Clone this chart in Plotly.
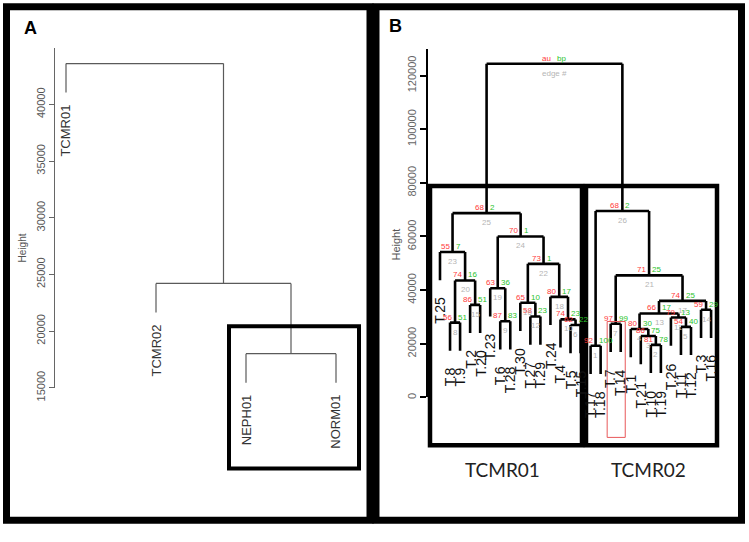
import plotly.graph_objects as go

W, H = 749, 542

# ---------------- Panel A data ----------------
a_labels = ["TCMR01", "TCMR02", "NEPH01", "NORM01"]          # leaf order
a_left = ["NEPH01", "TCMR02", "TCMR01"]
a_right = ["NORM01", 1, 2]
a_height = [18000, 24200, 43600]
a_ticks = [15000, 20000, 25000, 30000, 35000, 40000]

# ---------------- Panel B data ----------------
b_labels = ["T.25", "T.8", "T.9", "T.2", "T.20", "T.23", "T.6", "T.28", "T.30",
            "T.27", "T.29", "T.24", "T.4", "T.5", "T.15", "T.17", "T.18", "T.7",
            "T.14", "T.1", "T.21", "T.10", "T.19", "T.26", "T.11", "T.12", "T.3", "T.16"]
b_left = ["T.17", "T.10", "T.21", "T.1", "T.11", "T.5", "T.7", "T.8", "T.6", "T.4",
          "T.26", "T.27", 4, "T.3", "T.2", "T.30", 13, "T.24", "T.23", 8, 7, 16,
          "T.25", 19, 23, 1, 25]
b_right = ["T.18", "T.19", 2, 3, "T.12", "T.15", "T.14", "T.9", "T.28", 6,
           5, "T.29", 11, "T.16", "T.20", 12, 14, 10, 9, 15, 17, 18,
           20, 22, 24, 21, 26]
b_height = [19300, 19600, 22900, 25500, 26300, 27000, 27500, 27900, 28400, 29100,
            29800, 30200, 31300, 32700, 34500, 35300, 36000, 37500, 40700, 43600,
            45500, 49800, 54200, 60000, 68700, 69500, 124400]
b_au = [92, 81, 86, 80, 54, 62, 97, 56, 87, 74, 79, 58, 66, 59, 86, 65, 74, 80, 63,
        74, 71, 73, 55, 70, 68, 68]
b_bp = [100, 78, 75, 30, 40, 22, 99, 51, 83, 23, 13, 23, 17, 29, 51, 10, 25, 17, 36,
        16, 25, 1, 7, 1, 2, 2]
b_ticks = [0, 20000, 40000, 60000, 80000, 100000, 120000]


def build(labels, left, right, height):
    hang = 0.1 * (max(height) - min(height))
    leaf_x = {n: i + 1 for i, n in enumerate(labels)}
    node_x, leaf_end = {}, {}
    xs, ys = [], []
    for k in range(len(height)):
        h = height[k]
        cx = []
        for c in (left[k], right[k]):
            if isinstance(c, str):
                x, yb = leaf_x[c], h - hang
                leaf_end[c] = yb
            else:
                x, yb = node_x[c], height[c - 1]
            xs += [x, x, None]
            ys += [h, yb, None]
            cx.append(x)
        xs += [cx[0], cx[1], None]
        ys += [h, h, None]
        node_x[k + 1] = (cx[0] + cx[1]) / 2
    return xs, ys, leaf_x, node_x, leaf_end


fig = go.Figure()

# ---- Panel A dendrogram ----
axs, ays, a_lx, a_nx, a_le = build(a_labels, a_left, a_right, a_height)
fig.add_trace(go.Scatter(x=axs, y=ays, mode="lines", xaxis="x", yaxis="y",
                         line=dict(color="#5a5a5a", width=1.2),
                         hoverinfo="skip", showlegend=False))
annotations = []
for n in a_labels:
    annotations.append(dict(x=a_lx[n], y=a_le[n], xref="x", yref="y", text=n,
                            textangle=-90, showarrow=False, xanchor="center",
                            yanchor="top", yshift=-10,
                            font=dict(family="Liberation Sans", size=13, color="#333")))

# ---- Panel B dendrogram ----
bxs, bys, b_lx, b_nx, b_le = build(b_labels, b_left, b_right, b_height)
fig.add_trace(go.Scatter(x=bxs, y=bys, mode="lines", xaxis="x2", yaxis="y2",
                         line=dict(color="black", width=2.6),
                         hoverinfo="skip", showlegend=False))
for n in b_labels:
    annotations.append(dict(x=b_lx[n], y=b_le[n], xref="x2", yref="y2", text=n,
                            textangle=-90, showarrow=False, xanchor="center",
                            yanchor="top", yshift=-15,
                            font=dict(family="Liberation Sans", size=14, color="#111")))

RED, GREEN, GRAY = "#ff3b3b", "#2bc42b", "#b5b5b5"
nE = len(b_height)
for k in range(nE):
    e = k + 1
    cx, h = b_nx[e], b_height[k]
    if k < nE - 1:
        au, bp = str(b_au[k]), str(b_bp[k])
    else:
        au, bp = "au", "bp"
    annotations.append(dict(x=cx, y=h, xref="x2", yref="y2", text=au, showarrow=False,
                            xanchor="right", yanchor="bottom", xshift=-1, yshift=-1,
                            font=dict(family="Liberation Sans", size=8, color=RED)))
    annotations.append(dict(x=cx, y=h, xref="x2", yref="y2", text=bp, showarrow=False,
                            xanchor="left", yanchor="bottom", xshift=1, yshift=-1,
                            font=dict(family="Liberation Sans", size=8, color=GREEN)))
    annotations.append(dict(x=cx, y=h, xref="x2", yref="y2",
                            text=str(e) if k < nE - 1 else "edge #", showarrow=False,
                            xanchor="center", yanchor="top", yshift=-3,
                            font=dict(family="Liberation Sans", size=8, color=GRAY)))

# ---- text ----
def P(x, y):
    return x / W, 1 - y / H

for txt, (x, y), size in [("A", (30, 29), 18), ("B", (395, 27), 18)]:
    X, Y = P(x, y)
    annotations.append(dict(x=X, y=Y, xref="paper", yref="paper", text="<b>%s</b>" % txt,
                            showarrow=False, xanchor="center", yanchor="middle",
                            font=dict(family="Liberation Sans", size=size, color="black")))
for (x, y), size in [((22, 255), 10), ((396, 251), 11)]:
    X, Y = P(x, y)
    annotations.append(dict(x=X, y=Y, xref="paper", yref="paper", text="Height",
                            textangle=-90, showarrow=False, xanchor="center",
                            yanchor="middle",
                            font=dict(family="Liberation Sans", size=size, color="#555")))
for txt, (x, y) in [("TCMR01", (502, 482)), ("TCMR02", (648, 482))]:
    X, Y = P(x, y)
    annotations.append(dict(x=X, y=Y, xref="paper", yref="paper", text=txt,
                            showarrow=False, xanchor="center", yanchor="middle",
                            font=dict(family="Lato", size=19, color="#222")))

# ---- frames / boxes ----
shapes = []
def rect(x0, y0, x1, y1, w, color="black"):
    a0, b0 = P(x0, y0)
    a1, b1 = P(x1, y1)
    shapes.append(dict(type="rect", xref="paper", yref="paper", x0=a0, y0=b1, x1=a1, y1=b0,
                       line=dict(color=color, width=w), fillcolor="rgba(0,0,0,0)", layer="above"))

rect(6.5, 7, 370, 534, 7)
rect(376, 7, 741.5, 534, 7)
rect(229, 335, 359, 481, 4)
rect(430, 191, 582, 457, 4.5)
rect(586, 191, 717, 457, 4.5)
# red highlight box around T.7 / T.14
shapes.append(dict(type="rect", xref="x2", yref="paper",
                   x0=b_lx["T.7"] - 0.35, x1=b_lx["T.14"] + 0.45,
                   y0=1 - 449 / H, y1=1 - 330 / H,
                   line=dict(color="#e8585a", width=1), fillcolor="rgba(0,0,0,0)"))

fig.update_layout(
    width=W, height=H, margin=dict(l=0, r=0, t=0, b=0),
    paper_bgcolor="white", plot_bgcolor="rgba(0,0,0,0)",
    xaxis=dict(domain=[55 / W, 372 / W], range=[1 + (55 - 66) / 90, 1 + (372 - 66) / 90],
               visible=False),
    yaxis=dict(domain=[1 - 398 / H, 1 - 49 / H], range=[15000, 45000], anchor="x",
               showline=True, linecolor="#666", linewidth=1, ticks="outside", ticklen=5,
               tickcolor="#666", tickvals=a_ticks, ticktext=[str(t) for t in a_ticks],
               tickangle=-90, tickfont=dict(family="Liberation Sans", size=11, color="#555"),
               showgrid=False, zeroline=False),
    xaxis2=dict(domain=[428 / W, 745 / W],
                range=[(428 - 429.96) / 10.04, (745 - 429.96) / 10.04], visible=False,
                anchor="y2"),
    yaxis2=dict(domain=[1 - 408 / H, 1 - 50 / H], range=[0, 130000], anchor="x2",
                showline=True, linecolor="black", linewidth=1.5, ticks="outside", ticklen=6,
                tickwidth=2, tickcolor="black", tickvals=b_ticks,
                ticktext=[str(t) for t in b_ticks], tickangle=-90,
                tickfont=dict(family="Liberation Sans", size=11, color="#666"),
                showgrid=False, zeroline=False),
    annotations=annotations, shapes=shapes,
)

post = ("var s=document.createElement('style');"
        "s.innerHTML='html,body{margin:0;padding:0;overflow:hidden;}"
        ".plotly-graph-div{position:fixed !important;top:0;left:0;}';"
        "document.head.appendChild(s);")
fig.write_html("out.html", config={"displayModeBar": False}, post_script=post)
